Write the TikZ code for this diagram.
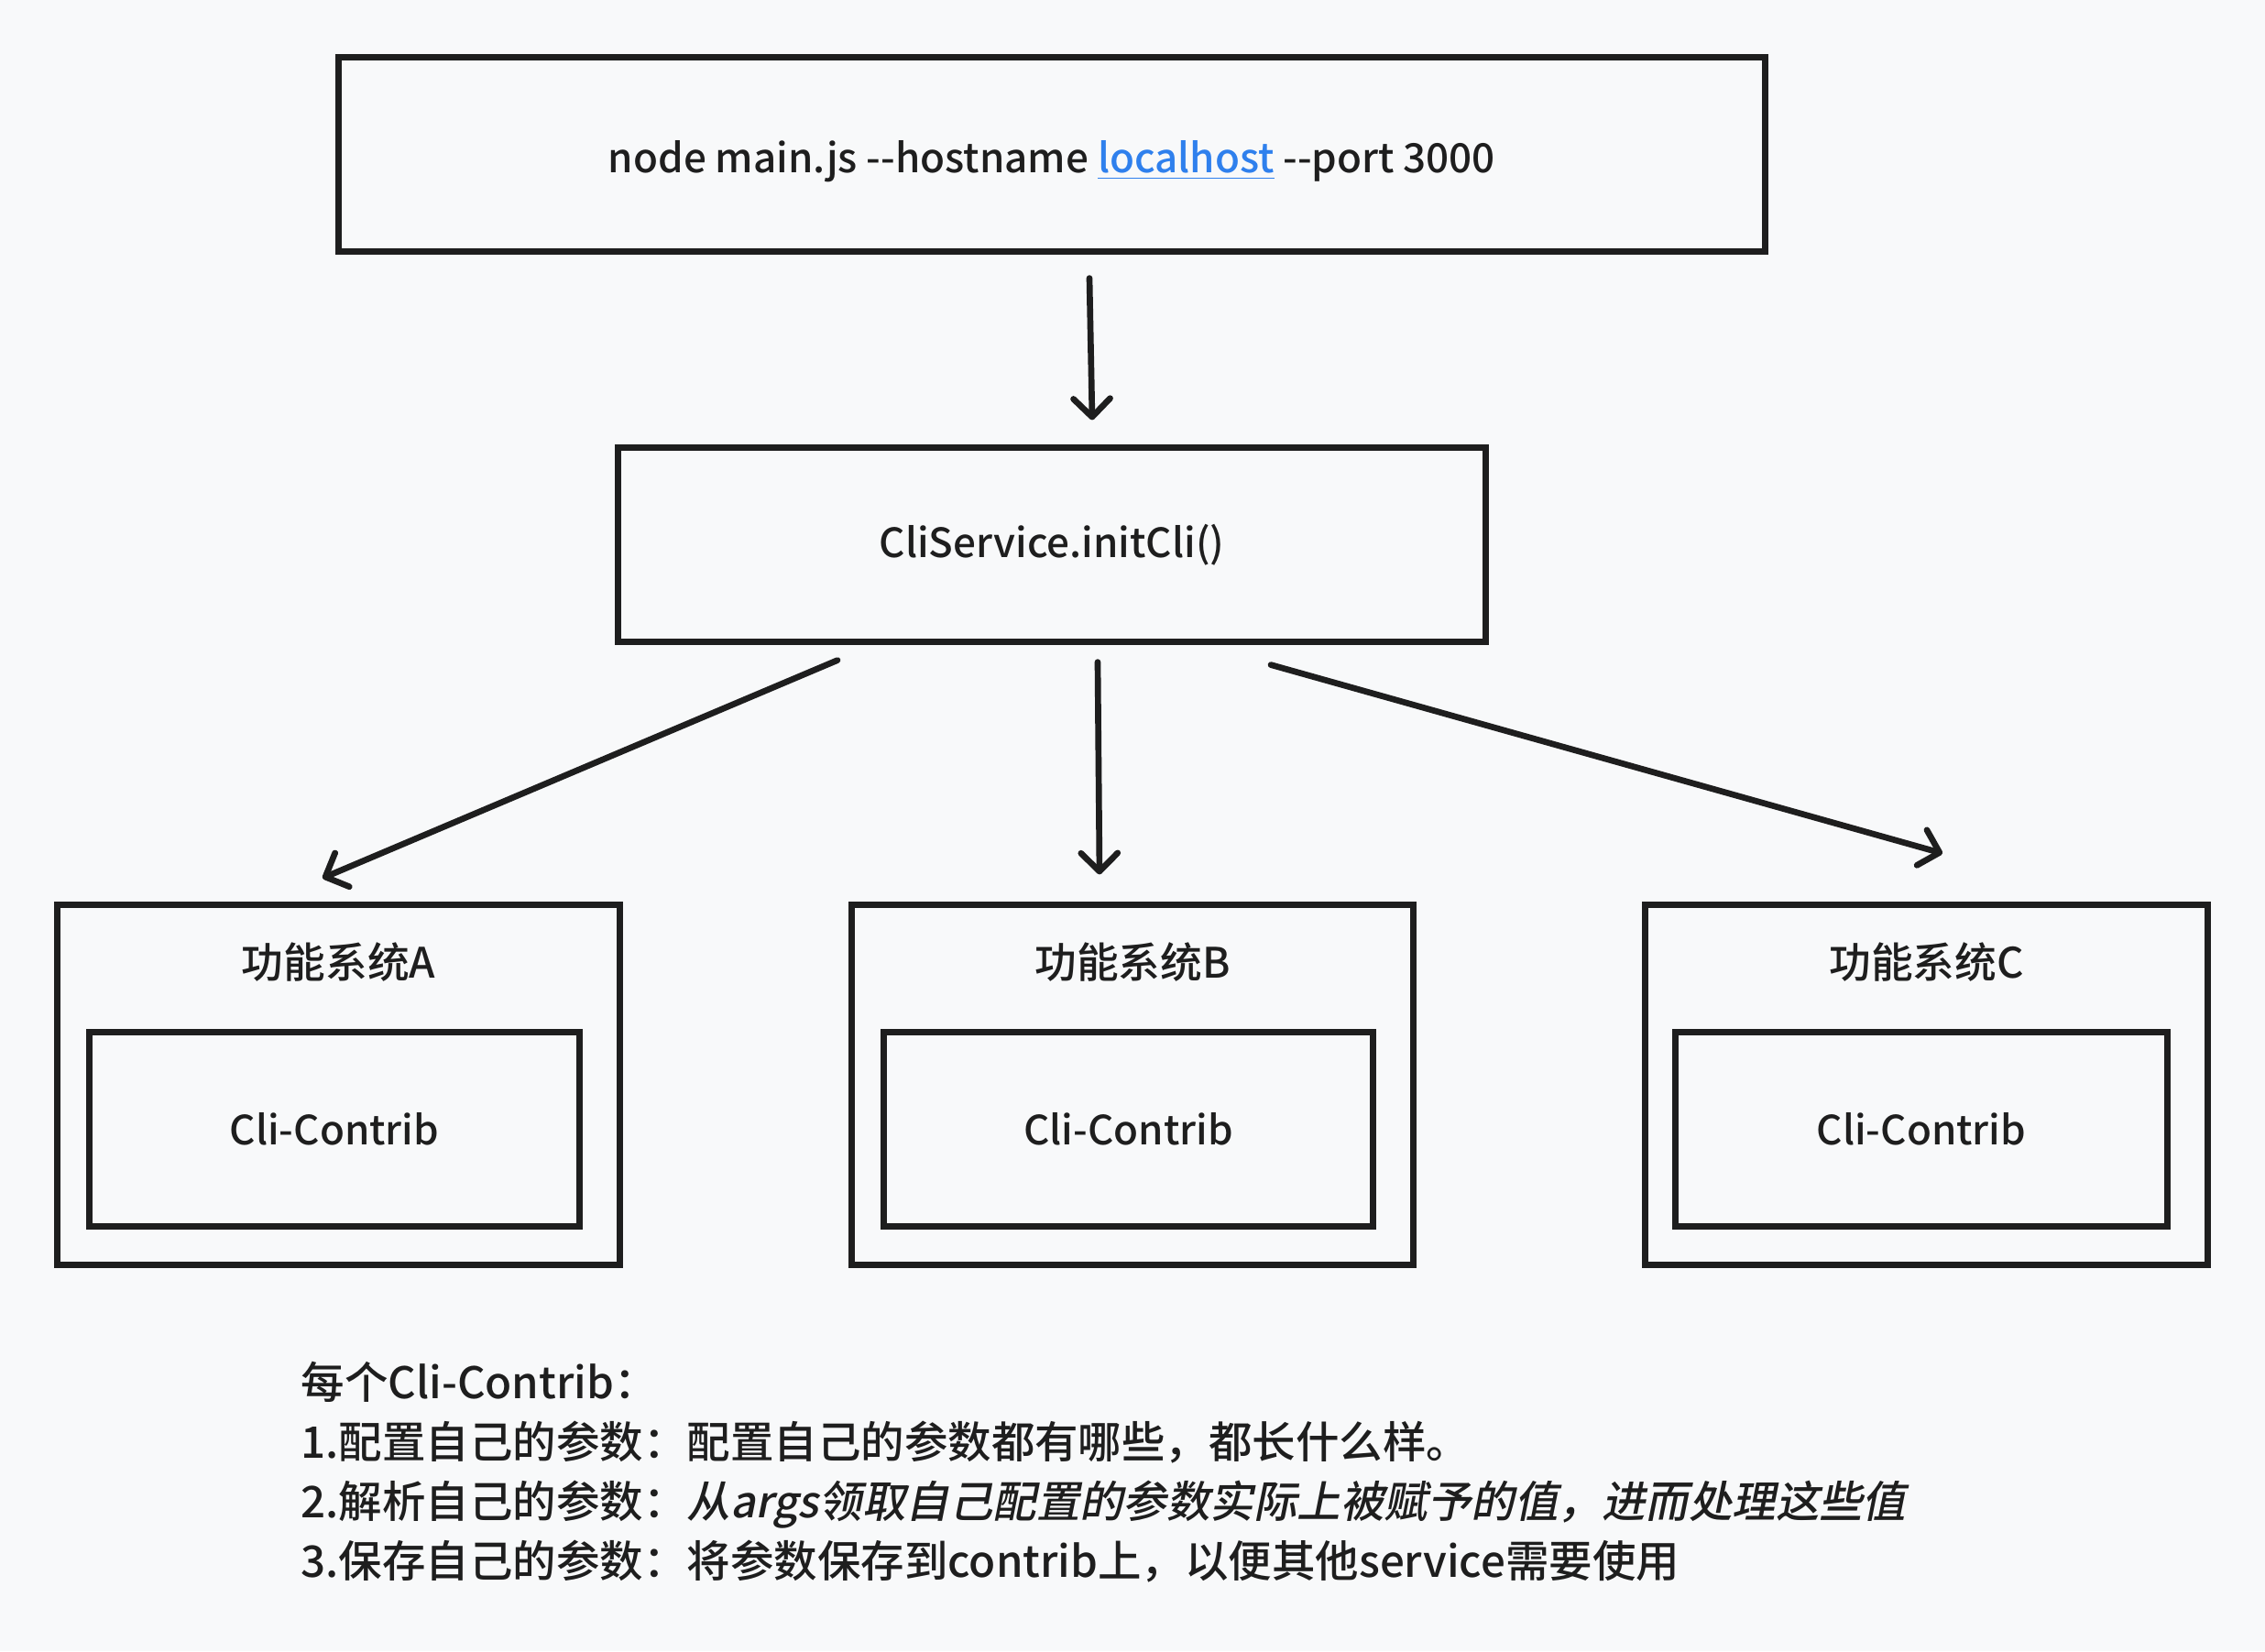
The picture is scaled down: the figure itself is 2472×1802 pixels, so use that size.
\documentclass[tikz,border=0pt]{standalone}
\usepackage{fontspec}
\setmainfont{Noto Sans CJK SC}[UprightFont=* Medium]
\newfontfamily\slantcjk{Noto Sans CJK SC}[UprightFont=* Medium, FakeSlant=0.2]
\usetikzlibrary{arrows.meta,calc}
\definecolor{ink}{HTML}{1E1E1E}
\definecolor{paper}{HTML}{F8F9FA}
\definecolor{linkblue}{HTML}{2F80ED}
\tikzset{
	box/.style={draw=ink, line width=2pt, minimum height=2.11cm, inner sep=0pt, text=ink, font=\fontsize{12.5}{15}\selectfont},
	arr/.style={draw=ink, line width=1.9pt, line cap=round, -{Straight Barb[length=2mm,width=4mm,line cap=round,line join=round]}},
	label/.style={text=ink, inner sep=0pt}
}
\begin{document}
\begin{tikzpicture}[x=0.01cm, y=-0.01cm, font=\fontsize{13}{16}\selectfont]
	\fill[paper] (0,0) rectangle (2472,1802);
	\useasboundingbox (0,0) rectangle (2472,1802);
	
	\node[box, minimum width=15.56cm, text height=15pt, text depth=3.5pt] (cmd) at (1148,168.5) {node main.js -{}-hostname \textcolor{linkblue}{\underline{localhost}} -{}-port 3000};
	\node[box, minimum width=9.46cm] (cli) at (1148,594.5) {CliService.initCli()};
	
	\node[box, minimum width=6.13cm, minimum height=3.92cm] (sysA) at (369.5,1184) {};
	\node[box, minimum width=6.12cm, minimum height=3.92cm] (sysB) at (1236,1184) {};
	\node[box, minimum width=6.13cm, minimum height=3.92cm] (sysC) at (2102.5,1184) {};
	
	\node[label] (titleA) at (369.5,1050) {功能系统A};
	\node[label] (titleB) at (1236,1050) {功能系统B};
	\node[label] (titleC) at (2102.5,1050) {功能系统C};
	
	\node[box, minimum width=5.34cm] (contribA) at (365,1232.5) {Cli-Contrib};
	\node[box, minimum width=5.33cm] (contribB) at (1231.5,1232.5) {Cli-Contrib};
	\node[box, minimum width=5.36cm] (contribC) at (2097,1232.5) {Cli-Contrib};
	
	\draw[arr] ($(cmd.south)+(41,26)$) -- ($(cli.north)+(44,-27)$);
	\draw[arr] ($(cli.south)+(-234,17)$) -- ($(sysA.north)+(-17.5,-26)$);
	\draw[arr] ($(cli.south)+(50,19)$) -- ($(sysB.north)+(-36,-30)$);
	\draw[arr] ($(cli.south)+(239,22)$) -- ($(sysC.north)+(17.5,-53)$);
	
	\node[label, anchor=north west, align=left, font=\fontsize{13.5}{18.5}\selectfont] (notes) at (328,1485) {%
		每个Cli-Contrib：\\
		1.配置自己的参数：配置自己的参数都有哪些，都长什么样。\\
		2.解析自己的参数：{\slantcjk 从args领取自己配置的参数实际上被赋予的值，进而处理这些值}\\
		3.保存自己的参数：将参数保存到contrib上，以便其他service需要使用};
\end{tikzpicture}
\end{document}
